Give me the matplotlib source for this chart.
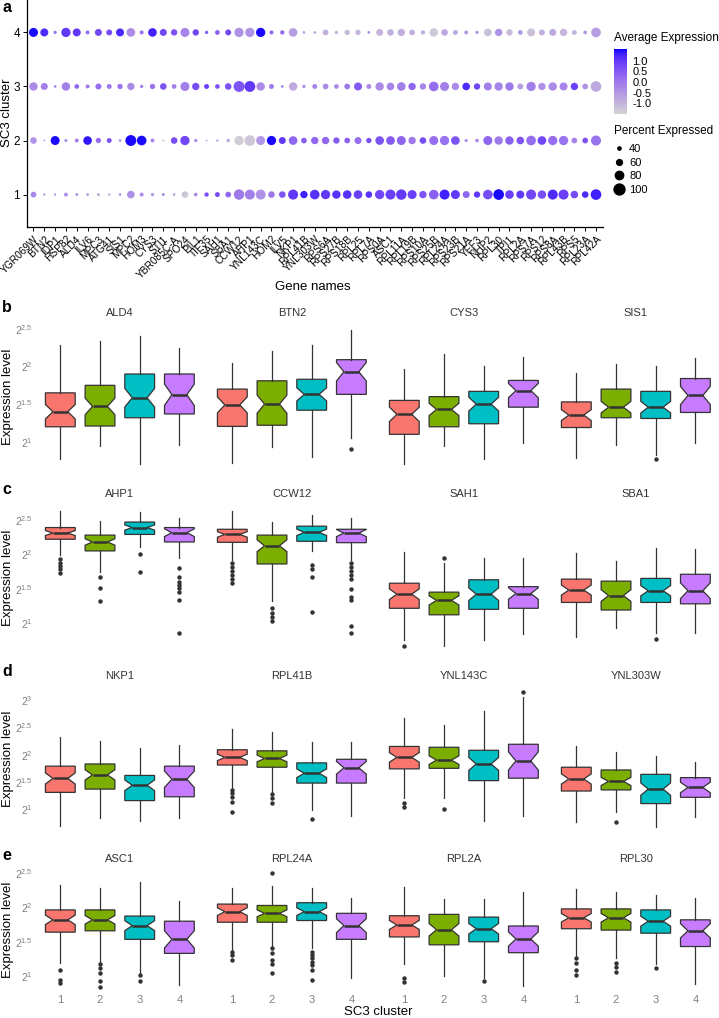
import numpy as np
import matplotlib

matplotlib.use("Agg")
import matplotlib.pyplot as plt
from matplotlib.cm import ScalarMappable
from matplotlib.colors import ListedColormap, Normalize
from matplotlib.lines import Line2D


W, H, DPI = 719, 1018, 100

# ---- panel a: dot plot -------------------------------------------------
GENES = [
    "YGR069W", "BTN2", "IDP1", "HSP82", "ALD4", "ILV6", "MPC3", "ATG41", "SIS1",
    "MPC2", "HOM3", "CYS3", "STI1", "YBR085C-A", "SPO24", "PIL1", "TIF35", "SAH1",
    "SBA1", "CCW12", "AHP1", "YNL143C", "HOM2", "ILV5", "NKP1", "RPL41B", "YNL303W",
    "RPS6A", "RPS27B", "RPS18B", "RPL25", "RPL7A", "RPS0A", "ASC1", "RPL11A",
    "RPL19B", "RPS10A", "RPS25B", "RPL24A", "RPS23B", "RPS21A", "YEF3", "NHP2",
    "RPL30", "TPI1", "RPL2A", "RPS7A", "RPS12", "RPS8A", "RPL43B", "RPS5", "RPL23A",
    "RPL42A",
]
CLUSTERS = [1, 2, 3, 4]

AVG_EXP_C1 = [
    -0.2, -0.4, -0.4, -0.4, -0.5, -0.4, -0.8, -0.7, -0.4, -0.4, -0.3, -0.5, -0.4,
    -0.6, -1.3, -0.3, 0.7, 0.7, 0.3, 0.0, -0.1, -0.4, 0.0, 0.6, 1.0, 1.3, 1.1,
    1.0, 1.1, 1.1, 0.9, 1.1, 0.8, 0.9, 1.0, 0.9, 0.6, 0.4, 1.3, 1.0, 0.3, 1.0,
    0.7, 1.5, 0.9, 1.0, 0.8, 0.7, 1.2, 0.9, 0.7, 1.2, 1.3,
]
AVG_EXP_C2 = [
    -0.4, -0.5, 1.5, -0.3, -0.1, 1.4, 0.2, 0.6, -0.4, 1.5, 1.5, -0.3, -0.8,
    0.7, 0.8, -0.3, -0.9, -1.0, -0.9, -1.4, -1.3, -0.5, 1.5, 1.0, 0.3, 0.4, 0.3,
    0.3, 0.5, 0.4, 0.2, 0.7, 0.6, 0.5, 0.3, 0.0, 0.7, 0.2, 0.1, 0.6, -0.2, -0.3,
    0.3, 0.0, 0.4, 0.6, 0.2, 0.8, 0.2, 0.1, -0.2, 0.6, 0.1,
]
AVG_EXP_C3 = [
    -0.3, -0.1, -0.3, -0.1, 0.3, 0.0, 0.2, 0.0, 0.1, -0.3, -0.1, 0.1, 0.6,
    -0.1, -0.1, 0.7, 0.9, 0.6, 0.6, 0.6, 1.0, -0.3, 0.0, 0.0, -0.8, -0.3, -0.2,
    -0.3, -0.3, 0.0, 0.5, -0.3, -0.3, -0.2, -0.1, 0.3, -0.2, 0.2, -0.1, -0.3, 1.2,
    0.8, -0.1, -0.2, 0.0, -0.6, -0.1, -0.4, -0.3, -0.2, 0.9, -0.4, -0.8,
]
AVG_EXP_C4 = [
    1.5, 1.2, 0.0, 1.0, 1.0, 0.2, 0.8, 0.7, 1.2, -0.3, 0.2, 1.3, 0.8,
    0.6, -0.2, 0.8, 0.5, 0.4, 0.8, -0.4, -0.4, 1.5, 0.3, 0.2, -0.6, -0.6, -0.7,
    -0.9, -0.9, -1.1, -1.0, -0.2, -1.0, -0.9, -0.9, -0.9, -0.9, -1.3, -0.8, -0.8,
    -0.5, -0.5, -1.2, -0.4, -1.1, -0.5, -1.2, -0.9, -0.8, -1.0, -1.0, -0.5, -0.6,
]

PCT_EXP_C1 = [
    59, 32, 32, 45, 38, 35, 38, 32, 35, 74, 45, 40, 38, 35, 66, 43, 48, 53, 59,
    96, 93, 93, 66, 66, 93, 72, 90, 87, 80, 82, 82, 66, 87, 93, 96, 85, 72, 90,
    93, 85, 69, 64, 90, 98, 82, 77, 93, 80, 93, 93, 74, 66, 98,
]
PCT_EXP_C2 = [
    66, 28, 85, 38, 45, 82, 56, 53, 35, 100, 90, 45, 28, 66, 87, 40, 30, 35, 43,
    87, 98, 85, 87, 69, 82, 59, 72, 72, 64, 59, 69, 56, 82, 82, 85, 72, 66, 85,
    87, 82, 38, 43, 85, 80, 80, 74, 90, 82, 87, 87, 59, 59, 93,
]
PCT_EXP_C3 = [
    80, 69, 35, 80, 51, 45, 61, 53, 56, 72, 40, 56, 66, 51, 85, 72, 53, 51, 66,
    100, 100, 80, 53, 35, 80, 40, 53, 59, 51, 59, 77, 53, 80, 74, 82, 72, 64, 90,
    85, 72, 74, 64, 77, 80, 80, 61, 87, 72, 80, 77, 72, 59, 98,
]
PCT_EXP_C4 = [
    85, 77, 40, 87, 77, 45, 69, 61, 77, 82, 45, 82, 69, 64, 85, 64, 40, 51, 61,
    87, 87, 87, 45, 48, 82, 35, 35, 59, 40, 56, 56, 35, 69, 66, 72, 59, 48, 80,
    66, 53, 45, 40, 74, 72, 64, 51, 77, 61, 69, 72, 53, 43, 90,
]

COLORBAR_TICKS = [-1.0, -0.5, 0.0, 0.5, 1.0]
SIZE_LEGEND = [40, 60, 80, 100]

# ---- panels b-e: notched box plots (log2 expression) ----------------------
CLUSTER_COLORS = ["#F8766D", "#7CAE00", "#00BFC4", "#C77CFF"]
CELLS_PER_CLUSTER = [55, 60, 55, 35]

ROW_B_GENES = ["ALD4", "BTN2", "CYS3", "SIS1"]
ROW_C_GENES = ["AHP1", "CCW12", "SAH1", "SBA1"]
ROW_D_GENES = ["NKP1", "RPL41B", "YNL143C", "YNL303W"]
ROW_E_GENES = ["ASC1", "RPL24A", "RPL2A", "RPL30"]

# (lower whisker, q1, median, q3, upper whisker) per cluster, in log2 units
BOX_STATS = {
    "ALD4": [(0.77, 1.20, 1.40, 1.65, 2.28), (0.94, 1.21, 1.47, 1.75, 2.34),
             (0.70, 1.32, 1.585, 1.90, 2.41), (0.96, 1.37, 1.625, 1.90, 2.24)],
    "BTN2": [(0.72, 1.205, 1.49, 1.70, 2.045), (0.935, 1.22, 1.50, 1.81, 2.20),
             (0.80, 1.42, 1.63, 1.83, 2.28), (1.05, 1.63, 1.93, 2.09, 2.49)],
    "CYS3": [(0.705, 1.10, 1.365, 1.55, 1.965), (0.94, 1.20, 1.43, 1.60, 2.17),
             (0.77, 1.24, 1.50, 1.67, 2.00), (0.98, 1.46, 1.68, 1.815, 2.13)],
    "SIS1": [(0.78, 1.19, 1.355, 1.53, 1.91), (0.96, 1.32, 1.46, 1.70, 2.03),
             (0.83, 1.31, 1.46, 1.67, 2.01), (0.98, 1.39, 1.615, 1.84, 2.11)],
    "AHP1": [(1.99, 2.22, 2.31, 2.39, 2.63), (1.75, 2.05, 2.18, 2.28, 2.485),
             (2.11, 2.29, 2.39, 2.47, 2.61), (1.94, 2.18, 2.315, 2.39, 2.525)],
    "CCW12": [(1.92, 2.175, 2.29, 2.365, 2.635), (1.32, 1.86, 2.125, 2.28, 2.47),
              (2.05, 2.19, 2.32, 2.41, 2.57), (1.92, 2.17, 2.31, 2.365, 2.525)],
    "SAH1": [(0.75, 1.215, 1.42, 1.58, 2.04), (0.66, 1.12, 1.33, 1.45, 1.87),
             (0.76, 1.20, 1.42, 1.63, 1.94), (0.84, 1.215, 1.43, 1.53, 1.95)],
    "SBA1": [(0.80, 1.30, 1.48, 1.64, 2.02), (0.93, 1.19, 1.40, 1.61, 1.90),
             (0.85, 1.30, 1.47, 1.65, 2.09), (0.85, 1.28, 1.47, 1.71, 2.08)],
    "NKP1": [(0.70, 1.31, 1.565, 1.79, 2.33), (0.85, 1.37, 1.63, 1.83, 2.25),
             (0.78, 1.16, 1.44, 1.62, 2.12), (0.85, 1.23, 1.55, 1.79, 2.18)],
    "RPL41B": [(1.385, 1.81, 1.95, 2.09, 2.46), (1.32, 1.77, 1.93, 2.07, 2.42),
               (0.99, 1.48, 1.66, 1.85, 2.24), (0.87, 1.48, 1.76, 1.915, 2.24)],
    "YNL143C": [(1.20, 1.74, 1.95, 2.15, 2.665), (1.20, 1.75, 1.90, 2.135, 2.54),
                (0.79, 1.525, 1.83, 2.08, 2.79), (0.885, 1.57, 1.885, 2.19, 3.06)],
    "YNL303W": [(0.775, 1.335, 1.555, 1.77, 2.16), (0.96, 1.355, 1.51, 1.72, 2.04),
                (0.685, 1.105, 1.37, 1.64, 1.98), (0.865, 1.22, 1.40, 1.58, 1.87)],
    "ASC1": [(1.185, 1.64, 1.82, 1.965, 2.33), (1.21, 1.66, 1.82, 1.965, 2.29),
             (1.04, 1.535, 1.735, 1.875, 2.37), (0.87, 1.33, 1.535, 1.80, 2.095)],
    "RPL24A": [(1.38, 1.785, 1.94, 2.05, 2.28), (1.43, 1.785, 1.915, 2.03, 2.315),
               (1.405, 1.81, 1.94, 2.07, 2.28), (0.97, 1.535, 1.735, 1.915, 2.135)],
    "RPL2A": [(1.175, 1.57, 1.745, 1.88, 2.295), (1.005, 1.455, 1.675, 1.90, 2.12),
              (0.965, 1.50, 1.69, 1.86, 2.12), (0.86, 1.34, 1.54, 1.73, 2.22)],
    "RPL30": [(1.28, 1.69, 1.85, 1.98, 2.265), (1.26, 1.67, 1.85, 1.98, 2.23),
              (1.175, 1.625, 1.80, 1.965, 2.18), (0.88, 1.43, 1.66, 1.82, 2.145)],
}

OUTLIERS = {
    "BTN2": [[], [], [], [0.91]],
    "SIS1": [[], [], [0.77], []],
    "AHP1": [[1.73, 1.78, 1.83, 1.88, 1.93], [1.675, 1.505, 1.32], [2.005, 1.74],
             [1.80, 1.675, 1.60, 1.55, 1.505, 1.455, 1.335, 0.85]],
    "CCW12": [[1.88, 1.82, 1.76, 1.70, 1.64, 1.58], [1.215, 1.15, 1.085, 1.035],
              [1.845, 1.78, 1.675, 1.165],
              [1.87, 1.815, 1.76, 1.70, 1.64, 1.50, 1.38, 1.33, 0.95, 0.85]],
    "SAH1": [[0.67], [1.94], [], []],
    "SBA1": [[], [], [0.77], []],
    "RPL41B": [[1.355, 1.30, 1.23, 1.14, 0.96], [1.28, 1.20, 1.12], [0.82], []],
    "YNL143C": [[1.11, 1.05], [1.00], [], [3.15]],
    "YNL303W": [[], [0.76], [], []],
    "ASC1": [[1.08, 0.94, 0.90], [1.175, 1.11, 1.05, 0.93, 0.845], [1.015, 0.93], []],
    "RPL24A": [[1.355, 1.31, 1.235], [2.5, 1.405, 1.34, 1.235, 1.175, 1.04],
               [1.355, 1.31, 1.26, 1.21, 1.16, 1.09, 0.94], []],
    "RPL2A": [[0.97, 0.905], [], [0.93], []],
    "RPL30": [[1.26, 1.195, 1.08, 1.015], [1.195, 1.13, 1.065], [1.11], []],
}


def px_rect(left, top, right, bottom):
    return [left / W, 1 - bottom / H, (right - left) / W, (bottom - top) / H]


def ptext(fig, x, y, s, **kw):
    return fig.text(x / W, 1 - y / H, s, **kw)


# ggplot interpolates gradients in CIELAB, so do the same here
_M = np.array([[0.4124564, 0.3575761, 0.1804375],
               [0.2126729, 0.7151522, 0.0721750],
               [0.0193339, 0.1191920, 0.9503041]])
_WHITE = _M @ np.ones(3)


def srgb_to_lab(rgb):
    rgb = np.asarray(rgb, float)
    lin = np.where(rgb <= 0.04045, rgb / 12.92, ((rgb + 0.055) / 1.055) ** 2.4)
    xyz = (_M @ lin) / _WHITE
    d = 6 / 29
    f = np.where(xyz > d ** 3, np.cbrt(xyz), xyz / (3 * d * d) + 4 / 29)
    return np.array([116 * f[1] - 16, 500 * (f[0] - f[1]), 200 * (f[1] - f[2])])


def lab_to_srgb(lab):
    L, a, b = lab
    fy = (L + 16) / 116
    f = np.array([fy + a / 500, fy, fy - b / 200])
    d = 6 / 29
    xyz = np.where(f > d, f ** 3, 3 * d * d * (f - 4 / 29)) * _WHITE
    lin = np.linalg.solve(_M, xyz)
    lin = np.clip(lin, 0, 1)
    rgb = np.where(lin <= 0.0031308, 12.92 * lin, 1.055 * lin ** (1 / 2.4) - 0.055)
    return np.clip(rgb, 0, 1)


def lab_gradient(low, high, n=256):
    lab0, lab1 = srgb_to_lab(low), srgb_to_lab(high)
    cols = [lab_to_srgb(lab0 + t * (lab1 - lab0)) for t in np.linspace(0, 1, n)]
    return ListedColormap(cols)


def dot_diameter_pt(pct):
    px = 3.3 + (np.asarray(pct, float) - 40) * 0.127
    return px * 72 / DPI


def draw_dotplot(fig):
    ax = fig.add_axes(px_rect(27, 0, 602.5, 227))
    cmap = lab_gradient((211 / 255, 211 / 255, 211 / 255), (0, 0, 1))
    norm = Normalize(vmin=-1.5, vmax=1.55)

    avg = [AVG_EXP_C1, AVG_EXP_C2, AVG_EXP_C3, AVG_EXP_C4]
    pct = [PCT_EXP_C1, PCT_EXP_C2, PCT_EXP_C3, PCT_EXP_C4]
    xs = np.arange(len(GENES))
    for cl, a, p in zip(CLUSTERS, avg, pct):
        ax.scatter(xs, np.full(len(xs), cl), c=a, cmap=cmap, norm=norm,
                   s=dot_diameter_pt(p) ** 2, linewidths=0, zorder=3)

    ax.set_xlim(-0.6, len(GENES) - 0.4)
    ax.set_ylim(0.4, 4.6)
    ax.set_yticks(CLUSTERS)
    ax.set_yticklabels([str(c) for c in CLUSTERS], fontsize=8.5)
    ax.set_xticks(xs)
    ax.set_xticklabels(GENES, rotation=45, ha="right", va="top",
                       rotation_mode="anchor", fontsize=7.3)
    ax.tick_params(length=3, width=0.7, color="black", pad=2)
    for spine in ("top", "right"):
        ax.spines[spine].set_visible(False)
    for spine in ("left", "bottom"):
        ax.spines[spine].set_linewidth(0.9)

    ptext(fig, 7, 113, "SC3 cluster", rotation=90, ha="center", va="center", fontsize=9.5)
    ptext(fig, 313, 287, "Gene names", ha="center", va="center", fontsize=9.5)
    ptext(fig, 7, 7, "a", fontsize=11.5, weight="bold", ha="center", va="center")

    # colour legend
    ptext(fig, 614, 38, "Average Expression", ha="left", va="center", fontsize=8.5)
    cax = fig.add_axes(px_rect(614, 49, 627, 114))
    cb = fig.colorbar(ScalarMappable(norm=norm, cmap=cmap), cax=cax)
    cb.outline.set_visible(False)
    cb.set_ticks(COLORBAR_TICKS)
    cb.set_ticklabels([f"{t:.1f}" for t in COLORBAR_TICKS])
    cax.tick_params(length=0, labelsize=8, pad=4)

    # size legend
    ptext(fig, 614, 131, "Percent Expressed", ha="left", va="center", fontsize=8.5)
    handles = [Line2D([], [], marker="o", ls="", color="black",
                      markersize=float(dot_diameter_pt(p))) for p in SIZE_LEGEND]
    fig.legend(handles, [str(p) for p in SIZE_LEGEND],
               loc="upper left", bbox_to_anchor=(612 / W, 1 - 144 / H),
               frameon=False, fontsize=8, handletextpad=0.35,
               labelspacing=0.32, borderaxespad=0, borderpad=0, handlelength=1.2)


def notch_stats(gene):
    stats = []
    fliers = OUTLIERS.get(gene, [[], [], [], []])
    for (lo, q1, med, q3, hi), n, fl in zip(BOX_STATS[gene], CELLS_PER_CLUSTER, fliers):
        half = 1.58 * (q3 - q1) / np.sqrt(n)
        stats.append(dict(whislo=lo, q1=q1, med=med, q3=q3, whishi=hi,
                          cilo=med - half, cihi=med + half, fliers=np.array(fl)))
    return stats


def draw_box_row(fig, genes, top, bottom, ylim, yticks, letter, letter_y, bottom_row):
    for k, gene in enumerate(genes):
        left = 36.5 + 172 * k
        ax = fig.add_axes(px_rect(left, top, left + 166.7, bottom))
        parts = ax.bxp(
            notch_stats(gene), positions=CLUSTERS, widths=0.75, shownotches=True,
            patch_artist=True, showcaps=False,
            boxprops=dict(edgecolor="#333333", linewidth=0.9),
            whiskerprops=dict(color="#333333", linewidth=0.9),
            medianprops=dict(color="#333333", linewidth=1.8),
            flierprops=dict(marker="o", markerfacecolor="#333333",
                            markeredgecolor="none", markersize=3.2),
        )
        for patch, col in zip(parts["boxes"], CLUSTER_COLORS):
            patch.set_facecolor(col)

        ax.set_xlim(0.4, 4.6)
        ax.set_ylim(*ylim)
        for spine in ax.spines.values():
            spine.set_visible(False)
        ax.tick_params(length=0)
        ax.annotate(gene, xy=(0.5, 1), xycoords="axes fraction", xytext=(0, 6.5),
                    textcoords="offset points", ha="center", va="center",
                    fontsize=8, color="#333333")

        if k == 0:
            ax.set_yticks(yticks)
            ax.set_yticklabels([f"$2^{{{t:g}}}$" for t in yticks],
                               fontsize=7.5, color="#808080")
            ax.tick_params(axis="y", pad=3)
        else:
            ax.set_yticks([])

        if bottom_row:
            ax.set_xticks(CLUSTERS)
            ax.set_xticklabels([str(c) for c in CLUSTERS], fontsize=8, color="#808080")
            ax.tick_params(axis="x", pad=2)
        else:
            ax.set_xticks([])

    ptext(fig, 8, (top + bottom) / 2, "Expression level", rotation=90,
          ha="center", va="center", fontsize=9.5)
    ptext(fig, 7, letter_y, letter, fontsize=11.5, weight="bold", ha="center", va="center")


def main():
    plt.rcParams["font.family"] = ["Liberation Sans", "DejaVu Sans"]
    plt.rcParams["mathtext.default"] = "regular"

    fig = plt.figure(figsize=(W / DPI, H / DPI), dpi=DPI)
    fig.patch.set_facecolor("white")

    draw_dotplot(fig)

    ticks = [1, 1.5, 2, 2.5]
    draw_box_row(fig, ROW_B_GENES, 322, 472, (0.60, 2.59), ticks, "b", 307, False)
    draw_box_row(fig, ROW_C_GENES, 503.5, 652.6, (0.57, 2.74), ticks, "c", 489, False)
    draw_box_row(fig, ROW_D_GENES, 685.2, 833.4, (0.56, 3.27), ticks + [3], "d", 672, False)
    draw_box_row(fig, ROW_E_GENES, 867.6, 992.6, (0.757, 2.583), ticks, "e", 855, True)

    ptext(fig, 378, 1012, "SC3 cluster", ha="center", va="center", fontsize=9.5)

    fig.savefig("out.png", dpi=DPI)
    plt.close(fig)


if __name__ == "__main__":
    main()
